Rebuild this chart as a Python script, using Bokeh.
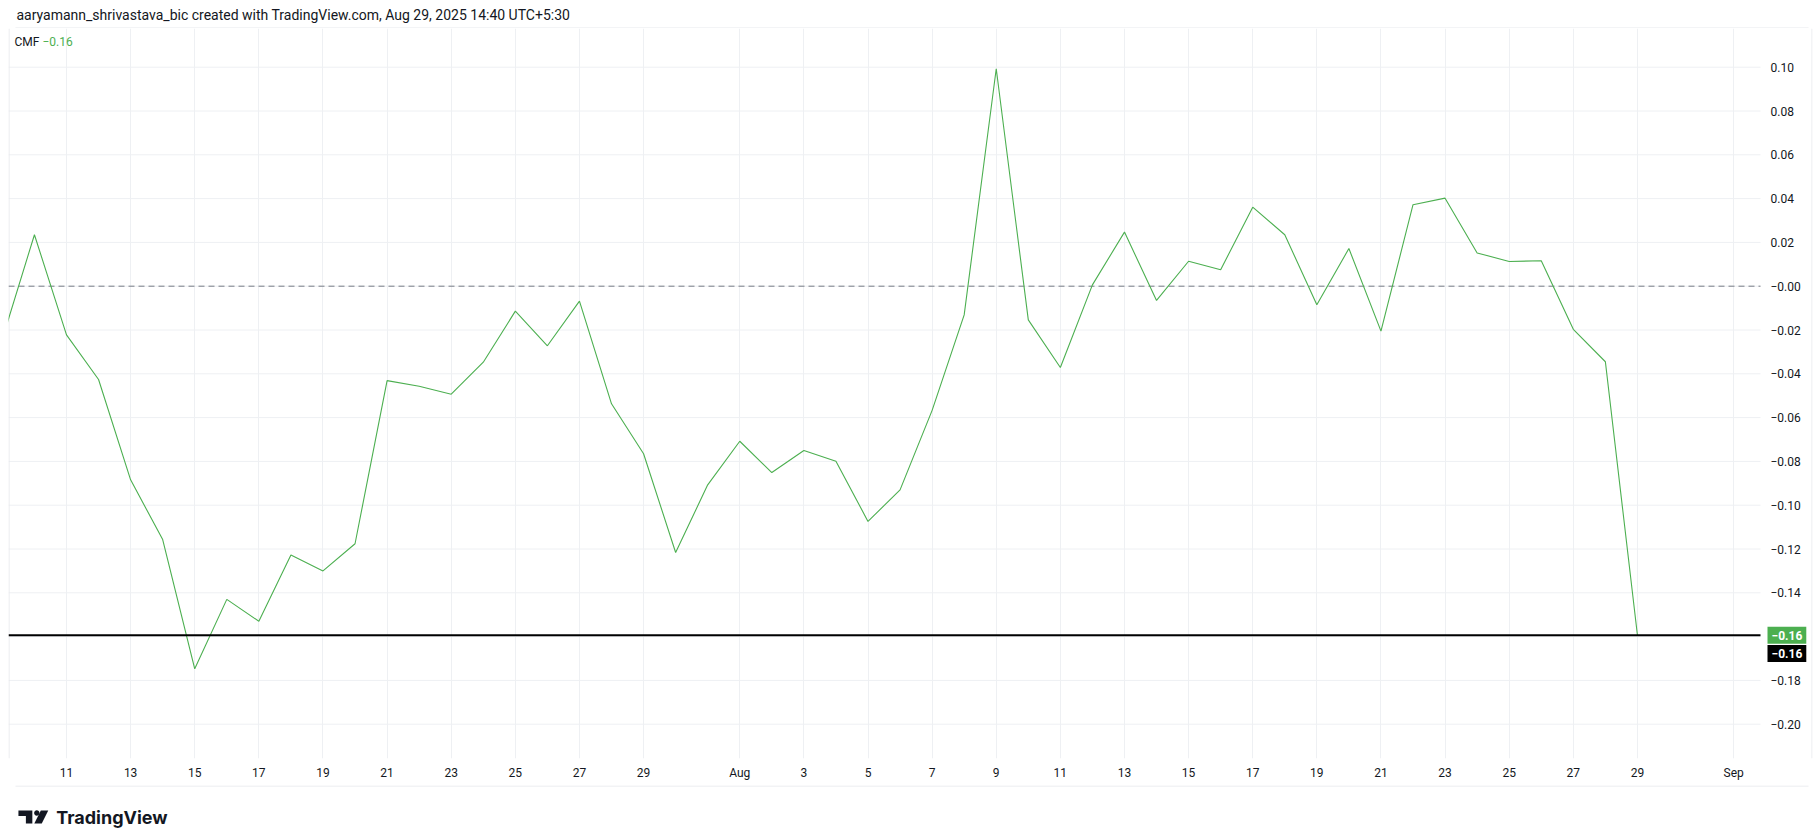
import math
import pandas as pd
from bokeh.plotting import figure
from bokeh.layouts import column
from bokeh.models import FixedTicker, Range1d, Label
from bokeh.core.properties import value
from bokeh.embed import file_html
from bokeh.resources import INLINE

# ---------------- data ----------------
start_date = "2025-07-09"
cmf = [
    -0.024, 0.0235, -0.0222, -0.0426, -0.0884, -0.1157, -0.1747, -0.1430,
    -0.1530, -0.1227, -0.1300, -0.1176, -0.0431, -0.0457, -0.0493, -0.0347,
    -0.0114, -0.0272, -0.0068, -0.0537, -0.0765, -0.1216, -0.0907,
    -0.0708, -0.0851, -0.0750, -0.0799, -0.1074, -0.0930, -0.0567, -0.0131,
    0.0993, -0.0154, -0.0371, 0.0006, 0.0247, -0.0065, 0.0114, 0.0075,
    0.0361, 0.0235, -0.0085, 0.0172, -0.0205, 0.0372, 0.0402, 0.0152,
    0.0113, 0.0116, -0.0197, -0.0345, -0.1594,
]
dates = pd.date_range(start_date, periods=len(cmf), freq="D")

x_tick_dates = ["2025-07-11", "2025-07-13", "2025-07-15", "2025-07-17", "2025-07-19",
                "2025-07-21", "2025-07-23", "2025-07-25", "2025-07-27", "2025-07-29",
                "2025-08-01", "2025-08-03", "2025-08-05", "2025-08-07", "2025-08-09",
                "2025-08-11", "2025-08-13", "2025-08-15", "2025-08-17", "2025-08-19",
                "2025-08-21", "2025-08-23", "2025-08-25", "2025-08-27", "2025-08-29",
                "2025-09-01"]
x_tick_labels = ["11", "13", "15", "17", "19", "21", "23", "25", "27", "29",
                 "Aug", "3", "5", "7", "9", "11", "13", "15", "17", "19",
                 "21", "23", "25", "27", "29", "Sep"]
y_ticks = [0.10, 0.08, 0.06, 0.04, 0.02, 0.00, -0.02, -0.04, -0.06, -0.08,
           -0.10, -0.12, -0.14, -0.16, -0.18, -0.20]
y_tick_labels = ["0.10", "0.08", "0.06", "0.04", "0.02", "\u22120.00", "\u22120.02",
                 "\u22120.04", "\u22120.06", "\u22120.08", "\u22120.10", "\u22120.12",
                 "\u22120.14", "\u22120.16", "\u22120.18", "\u22120.20"]
indicator_name = "CMF"
last_label = "\u22120.16"
header = "aaryamann_shrivastava_bic created with TradingView.com, Aug 29, 2025 14:40 UTC+5:30"
brand = "TradingView"

# ---------------- layout constants (page pixels) ----------------
PAGE_W = 1816
HEAD_H = 28            # header strip: page y 0..28
MAIN_H = 757           # chart pane: page y 28..785
FOOT_H = 52            # footer strip: page y 785..837
FRAME_L, FRAME_R = 8, 1812
FRAME_T, FRAME_B = 28, 758
PLOT_R = 1760          # end of drawing area / start of price scale
PXD = 32.06            # px per day
Y0_PX, PXU = 285.7, 2190.0   # page y of value 0, px per unit

DAY = 86400000.0
def ms(d):
    return pd.Timestamp(d).value / 1e6

X_ORIGIN = ms("2025-07-11") - (66 - FRAME_L) / PXD * DAY

def xd(page_x):
    return X_ORIGIN + (page_x - FRAME_L) / PXD * DAY

def yd(page_y):
    return (Y0_PX - page_y) / PXU

GREEN = "#4caf50"
TXT = "#131722"
GRID = "#eef0f3"
BORDER = "#e6e8ec"
FONT = "Roboto"

# ---------------- header strip ----------------
head = figure(width=PAGE_W, height=HEAD_H, x_range=Range1d(0, PAGE_W),
              y_range=Range1d(HEAD_H, 0), x_axis_location=None, y_axis_location=None,
              output_backend="svg", toolbar_location=None, min_border=0)
head.grid.visible = False
head.outline_line_color = None
head.text(x=[8], y=[14], text=[header], text_font=value(FONT),
          text_font_size=value("14px"), text_color=TXT,
          text_align="left", text_baseline="middle")
head.segment(x0=[7], x1=[1812], y0=[27.5], y1=[27.5], line_color=BORDER, line_width=1)

# ---------------- main chart ----------------
p = figure(width=PAGE_W, height=MAIN_H, x_axis_type="datetime", y_axis_location=None,
           x_range=Range1d(xd(FRAME_L), xd(FRAME_R)),
           y_range=Range1d(yd(FRAME_B), yd(FRAME_T)),
           output_backend="svg", toolbar_location=None,
           min_border_left=FRAME_L, min_border_right=PAGE_W - FRAME_R,
           min_border_top=0, min_border_bottom=MAIN_H - (FRAME_B - FRAME_T))
p.outline_line_color = None
p.background_fill_color = "white"
p.border_fill_color = "white"
p.ygrid.visible = False

xt = [ms(d) for d in x_tick_dates]
p.xaxis.ticker = FixedTicker(ticks=xt)
p.xaxis.major_label_overrides = {t: l for t, l in zip(xt, x_tick_labels)}
p.xgrid.ticker = FixedTicker(ticks=xt)
p.xgrid.grid_line_color = GRID
ax = p.xaxis[0]
ax.axis_line_color = None
ax.major_tick_line_color = None
ax.minor_tick_line_color = None
ax.major_tick_out = 0
ax.major_tick_in = 0
ax.minor_tick_out = 0
ax.major_label_text_font = FONT
ax.major_label_text_font_size = "12px"
ax.major_label_text_color = TXT
ax.major_label_standoff = 7

n = len(y_ticks)
xa, xb = xd(FRAME_L), xd(PLOT_R)
# horizontal grid (stops at the price scale)
p.segment(x0=[xa] * n, x1=[xb] * n, y0=y_ticks, y1=y_ticks, line_color=GRID, line_width=1)
# pane borders (left / right)
p.segment(x0=[xd(8.5), xd(1811.5)], x1=[xd(8.5), xd(1811.5)],
          y0=[yd(FRAME_B)] * 2, y1=[yd(FRAME_T)] * 2, line_color=BORDER, line_width=1)
# price scale labels
p.text(x=[xd(1770)] * n, y=y_ticks, text=y_tick_labels, text_font=value(FONT),
       text_font_size=value("12px"), text_color=TXT,
       text_align="left", text_baseline="middle")

# zero line
p.segment(x0=[xa], x1=[xb], y0=[0.0], y1=[0.0], line_color="#787b86",
          line_dash="6 4", line_width=1)

# CMF line
p.line(dates, cmf, line_color=GREEN, line_width=1.1)

# last value line
p.segment(x0=[xa], x1=[xb], y0=[cmf[-1]], y1=[cmf[-1]], line_color="black", line_width=2)

# legend
p.add_layout(Label(x=xd(14), y=yd(41), text=indicator_name, text_font=FONT,
                   text_font_size="12px", text_color=TXT,
                   text_baseline="middle", text_align="left"))
p.add_layout(Label(x=xd(42), y=yd(41), text=last_label, text_font=FONT,
                   text_font_size="12px", text_color=GREEN,
                   text_baseline="middle", text_align="left"))

# price tags
p.add_layout(Label(x=xd(1767), y=cmf[-1], text=last_label, text_font=FONT,
                   text_font_size="12px", text_font_style="bold", text_color="white",
                   background_fill_color=GREEN, padding=4,
                   text_baseline="middle", text_align="left"))
p.add_layout(Label(x=xd(1767), y=yd(653), text=last_label, text_font=FONT,
                   text_font_size="12px", text_font_style="bold", text_color="white",
                   background_fill_color="black", padding=4,
                   text_baseline="middle", text_align="left"))

# ---------------- footer strip ----------------
foot = figure(width=PAGE_W, height=FOOT_H, x_range=Range1d(0, PAGE_W),
              y_range=Range1d(837, 837 - FOOT_H), x_axis_location=None, y_axis_location=None,
              output_backend="svg", toolbar_location=None, min_border=0)
foot.grid.visible = False
foot.outline_line_color = None
foot.segment(x0=[7], x1=[1812], y0=[785.5], y1=[785.5], line_color=BORDER, line_width=1)
circle_pts = [(28.5 + 2.7 * math.cos(t / 16 * 2 * math.pi),
               812.5 + 2.7 * math.sin(t / 16 * 2 * math.pi)) for t in range(16)]
shapes = [
    [(10, 810), (24, 810), (24, 823), (17.5, 823), (17.5, 815.5), (10, 815.5)],
    [(32.5, 810), (40, 810), (33.5, 823), (26, 823)],
    circle_pts,
]
foot.patches(xs=[[a for a, b in s] for s in shapes], ys=[[b for a, b in s] for s in shapes],
             fill_color=TXT, line_color=None)
foot.text(x=[48], y=[817], text=[brand], text_font=value("Inter"),
          text_font_size=value("18px"), text_font_style="bold", text_color=TXT,
          text_align="left", text_baseline="middle")

layout = column(head, p, foot, spacing=0)
open("out.html", "w").write(file_html(layout, INLINE))
